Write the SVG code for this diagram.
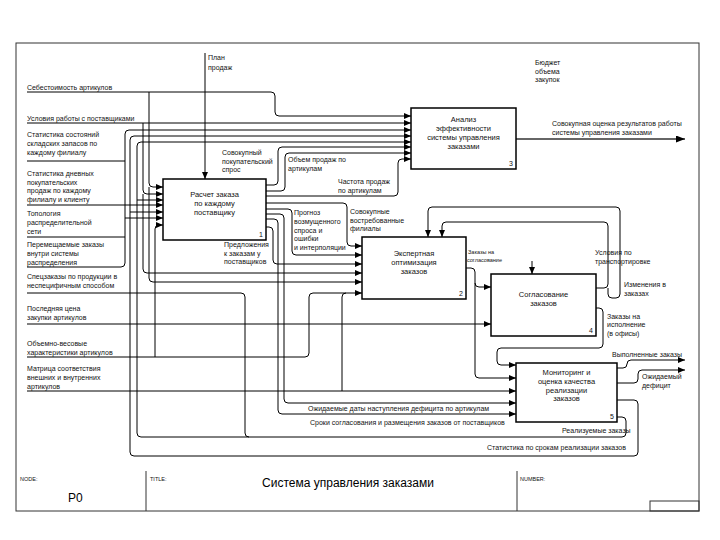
<svg xmlns="http://www.w3.org/2000/svg" width="720" height="540" viewBox="0 0 720 540">
<defs>
<style>
.ln{fill:none;stroke:#000;stroke-width:1}
.bx{fill:#fff;stroke:#000;stroke-width:1.5}
.fr{fill:none;stroke:#333;stroke-width:1}
.t{font-family:"Liberation Sans",Arial,sans-serif;font-size:7px;fill:#111}
.b{font-family:"Liberation Sans",Arial,sans-serif;font-size:7.5px;fill:#111;text-anchor:middle}
.s{font-family:"Liberation Sans",Arial,sans-serif;font-size:5.5px;fill:#111}
</style>
<marker id="a" markerWidth="7" markerHeight="6" refX="7" refY="3" orient="auto" markerUnits="userSpaceOnUse"><path d="M0,0 L7,3 L0,6 z" fill="#000"/></marker>
<marker id="g" markerWidth="9" markerHeight="7" refX="9" refY="3.5" orient="auto" markerUnits="userSpaceOnUse"><path d="M0,0 L9,3.5 L0,7 z" fill="#000"/></marker>
</defs>
<rect width="720" height="540" fill="#fff"/>
<g id="frame">
<rect class="fr" x="16" y="43" width="683" height="468"/>
<line class="fr" x1="146" y1="471" x2="146" y2="511"/>
<line class="fr" x1="517" y1="471" x2="517" y2="511"/>
<rect class="fr" x="650" y="501" width="49" height="10"/>
<text class="s" x="20" y="481">NODE:</text>
<text x="68" y="502" style="font-family:'Liberation Sans',Arial,sans-serif;font-size:12px">P0</text>
<text class="s" x="150" y="481">TITLE:</text>
<text x="348" y="487" text-anchor="middle" style="font-family:'Liberation Sans',Arial,sans-serif;font-size:12px">Система управления заказами</text>
<text class="s" x="520" y="481">NUMBER:</text>
</g>
<g id="connectors">
<path class="ln" d="M205,53 V179" marker-end="url(#a)"/>
<path class="ln" d="M27,92 H271 Q275,92 275,96 V112 Q275,116 279,116 H411" marker-end="url(#a)"/>
<path class="ln" d="M149,92 V183 Q149,187 153,187 H163" marker-end="url(#a)"/>
<path class="ln" d="M149,187 V278 Q149,282 153,282 H362" marker-end="url(#a)"/>
<path class="ln" d="M27,123 H411" marker-end="url(#a)"/>
<path class="ln" d="M143,123 V190 Q143,194 147,194 H163" marker-end="url(#a)"/>
<path class="ln" d="M143,194 V269 Q143,273 147,273 H362" marker-end="url(#a)"/>
<path class="ln" d="M27,161 H125"/>
<path class="ln" d="M27,267 H121 Q125,267 125,263 V134 Q125,130 129,130 H411" marker-end="url(#a)"/>
<path class="ln" d="M27,205 H163" marker-end="url(#a)"/>
<path class="ln" d="M27,237 H125"/>
<path class="ln" d="M125,218 H163" marker-end="url(#a)"/>
<path class="ln" d="M617,400 H634 Q638,400 638,404 V452 Q638,456 634,456 H134 Q130,456 130,452 V140 Q130,136 134,136 H411" marker-end="url(#a)"/>
<path class="ln" d="M617,417 H622 Q626,417 626,421 V433 Q626,437 622,437 H141 Q137,437 137,433 V146 Q137,142 141,142 H411" marker-end="url(#a)"/>
<path class="ln" d="M137,200 H163" marker-end="url(#a)"/>
<path class="ln" d="M130,212 H163" marker-end="url(#a)"/>
<path class="ln" d="M27,293 H241 Q245,293 245,297 V433 Q245,437 249,437"/>
<path class="ln" d="M27,324 H491" marker-end="url(#a)"/>
<path class="ln" d="M27,357 H305 Q309,357 309,353 V297 Q309,293 313,293 H362" marker-end="url(#a)"/>
<path class="ln" d="M155,357 V229 Q155,225 159,225 H163" marker-end="url(#a)"/>
<path class="ln" d="M27,391 H516" marker-end="url(#a)"/>
<path class="ln" d="M342,391 V297 Q342,293 346,293"/>
<path class="ln" d="M266,185 H274 Q278,185 278,181 V151 Q278,147 282,147 H411" marker-end="url(#a)"/>
<path class="ln" d="M266,191 H281 Q285,191 285,187 V157 Q285,153 289,153 H411" marker-end="url(#a)"/>
<path class="ln" d="M266,196 H394 Q398,196 398,192 V163 Q398,159 402,159 H411" marker-end="url(#a)"/>
<path class="ln" d="M266,203 H343 Q347,203 347,207 V242 Q347,246 351,246 H362" marker-end="url(#a)"/>
<path class="ln" d="M266,209 H288 Q292,209 292,213 V251 Q292,255 296,255 H362" marker-end="url(#a)"/>
<path class="ln" d="M266,214 H280 Q284,214 284,218 V399 Q284,403 288,403 H516" marker-end="url(#a)"/>
<path class="ln" d="M266,219 H274 Q278,219 278,223 V410 Q278,414 282,414 H516" marker-end="url(#a)"/>
<path class="ln" d="M266,227 H269 Q273,227 273,231 V260 Q273,264 277,264 H362" marker-end="url(#a)"/>
<path class="ln" d="M466,268 H471 Q475,268 475,272 V374 Q475,378 479,378 H516" marker-end="url(#a)"/>
<path class="ln" d="M475,283 Q475,287 479,287 H491" marker-end="url(#a)"/>
<path class="ln" d="M596,308 H599 Q603,308 603,312 V344 Q603,348 599,348 H501 Q497,348 497,352 V361 Q497,365 501,365 H516" marker-end="url(#a)"/>
<path class="ln" d="M596,288 H604 Q608,288 608,284 V226 Q608,222 604,222 H446 Q442,222 442,226 V237" marker-end="url(#a)"/>
<path class="ln" d="M608,288 V294 Q608,298 612,298 H616 Q620,298 620,294 V211 Q620,207 616,207 H432 Q428,207 428,211 V237" marker-end="url(#a)"/>
<path class="ln" d="M532,261 V274" marker-end="url(#a)"/>
<path d="M516,139 H685" fill="none" stroke="#666" stroke-width="2" marker-end="url(#g)"/>
<path class="ln" d="M617,368 H623 Q627,368 627,364 Q627,360 631,360 H685" marker-end="url(#a)"/>
<path class="ln" d="M617,383 H634 Q638,383 638,379 V374 Q638,370 642,370 H685" marker-end="url(#a)"/>
</g>
<g id="node1">
<rect class="bx" x="163" y="179" width="103" height="61"/>
<text class="b" x="214.5" y="197">Расчет заказа</text>
<text class="b" x="214.5" y="206">по каждому</text>
<text class="b" x="214.5" y="215">поставщику</text>
<text class="t" x="259" y="237">1</text>
</g>
<g id="node3">
<rect class="bx" x="411" y="108" width="105" height="61"/>
<text class="b" x="463.5" y="122">Анализ</text>
<text class="b" x="463.5" y="131">эффективности</text>
<text class="b" x="463.5" y="140">системы управления</text>
<text class="b" x="463.5" y="149">заказами</text>
<text class="t" x="509" y="166">3</text>
</g>
<g id="node2">
<rect class="bx" x="362" y="237" width="104" height="62"/>
<text class="b" x="414" y="256">Экспертная</text>
<text class="b" x="414" y="265">оптимизация</text>
<text class="b" x="414" y="274">заказов</text>
<text class="t" x="459" y="296">2</text>
</g>
<g id="node4">
<rect class="bx" x="491" y="274" width="105" height="62"/>
<text class="b" x="543.5" y="297">Согласование</text>
<text class="b" x="543.5" y="306">заказов</text>
<text class="t" x="589" y="333">4</text>
</g>
<g id="node5">
<rect class="bx" x="516" y="363" width="101" height="59"/>
<text class="b" x="566.5" y="375">Мониторинг и</text>
<text class="b" x="566.5" y="384">оценка качества</text>
<text class="b" x="566.5" y="393">реализации</text>
<text class="b" x="566.5" y="401">заказов</text>
<text class="t" x="610" y="419">5</text>
</g>
<g id="labels">
<text class="t" x="208" y="60">План</text>
<text class="t" x="208" y="70">продаж</text>
<text class="t" x="535" y="65">Бюджет</text>
<text class="t" x="535" y="74">объема</text>
<text class="t" x="535" y="82">закупок</text>
<text class="t" x="27" y="90">Себестоимость артикулов</text>
<text class="t" x="27" y="121">Условия работы с поставщиками</text>
<text class="t" x="27" y="137">Статистика состояний</text>
<text class="t" x="27" y="146">складских запасов по</text>
<text class="t" x="27" y="155">каждому филиалу</text>
<text class="t" x="27" y="176">Статистика дневных</text>
<text class="t" x="27" y="185">покупательских</text>
<text class="t" x="27" y="193">продаж по каждому</text>
<text class="t" x="27" y="202">филиалу и клиенту</text>
<text class="t" x="27" y="216">Топология</text>
<text class="t" x="27" y="225">распределительной</text>
<text class="t" x="27" y="234">сети</text>
<text class="t" x="27" y="247">Перемещаемые заказы</text>
<text class="t" x="27" y="256">внутри системы</text>
<text class="t" x="27" y="265">распределения</text>
<text class="t" x="27" y="279">Спецзаказы по продукции в</text>
<text class="t" x="27" y="288">неспецифичным способом</text>
<text class="t" x="27" y="311">Последняя цена</text>
<text class="t" x="27" y="320">закупки артикулов</text>
<text class="t" x="27" y="346">Объемно-весовые</text>
<text class="t" x="27" y="355">характеристики артикулов</text>
<text class="t" x="27" y="371">Матрица соответствия</text>
<text class="t" x="27" y="380">внешних и внутренних</text>
<text class="t" x="27" y="389">артикулов</text>
<text class="t" x="222" y="155">Совокупный</text>
<text class="t" x="222" y="164">покупательский</text>
<text class="t" x="222" y="172">спрос</text>
<text class="t" x="288" y="162">Объем продаж по</text>
<text class="t" x="288" y="171">артикулам</text>
<text class="t" x="338" y="184">Частота продаж</text>
<text class="t" x="338" y="193">по артикулам</text>
<text class="t" x="350" y="214">Совокупные</text>
<text class="t" x="350" y="223">востребованные</text>
<text class="t" x="350" y="231">филиалы</text>
<text class="t" x="294" y="215">Прогноз</text>
<text class="t" x="294" y="224">возмущенного</text>
<text class="t" x="294" y="233">спроса и</text>
<text class="t" x="294" y="241">ошибки</text>
<text class="t" x="294" y="250">и интерполяции</text>
<text class="t" x="224" y="247">Предложения</text>
<text class="t" x="224" y="256">к заказам у</text>
<text class="t" x="224" y="264">поставщиков</text>
<text class="t" x="552" y="126">Совокупная оценка результатов работы</text>
<text class="t" x="552" y="135">системы управления заказами</text>
<text class="s" x="468" y="254">Заказы на</text>
<text class="s" x="467" y="262">согласование</text>
<text class="t" x="595" y="255">Условия по</text>
<text class="t" x="595" y="264">транспортировке</text>
<text class="t" x="624" y="287">Изменения в</text>
<text class="t" x="624" y="296">заказах</text>
<text class="t" x="607" y="319">Заказы на</text>
<text class="t" x="607" y="327">исполнение</text>
<text class="t" x="607" y="336">(в офисы)</text>
<text class="t" x="612" y="357">Выполненные заказы</text>
<text class="t" x="642" y="379">Ожидаемый</text>
<text class="t" x="642" y="388">дефицит</text>
<text class="t" x="308" y="411">Ожидаемые даты наступления дефицита по артикулам</text>
<text class="t" x="310" y="425">Сроки согласования и размещения заказов от поставщиков</text>
<text class="t" x="562" y="433">Реализуемые заказы</text>
<text class="t" x="487" y="450">Статистика по срокам реализации заказов</text>
</g>
</svg>
